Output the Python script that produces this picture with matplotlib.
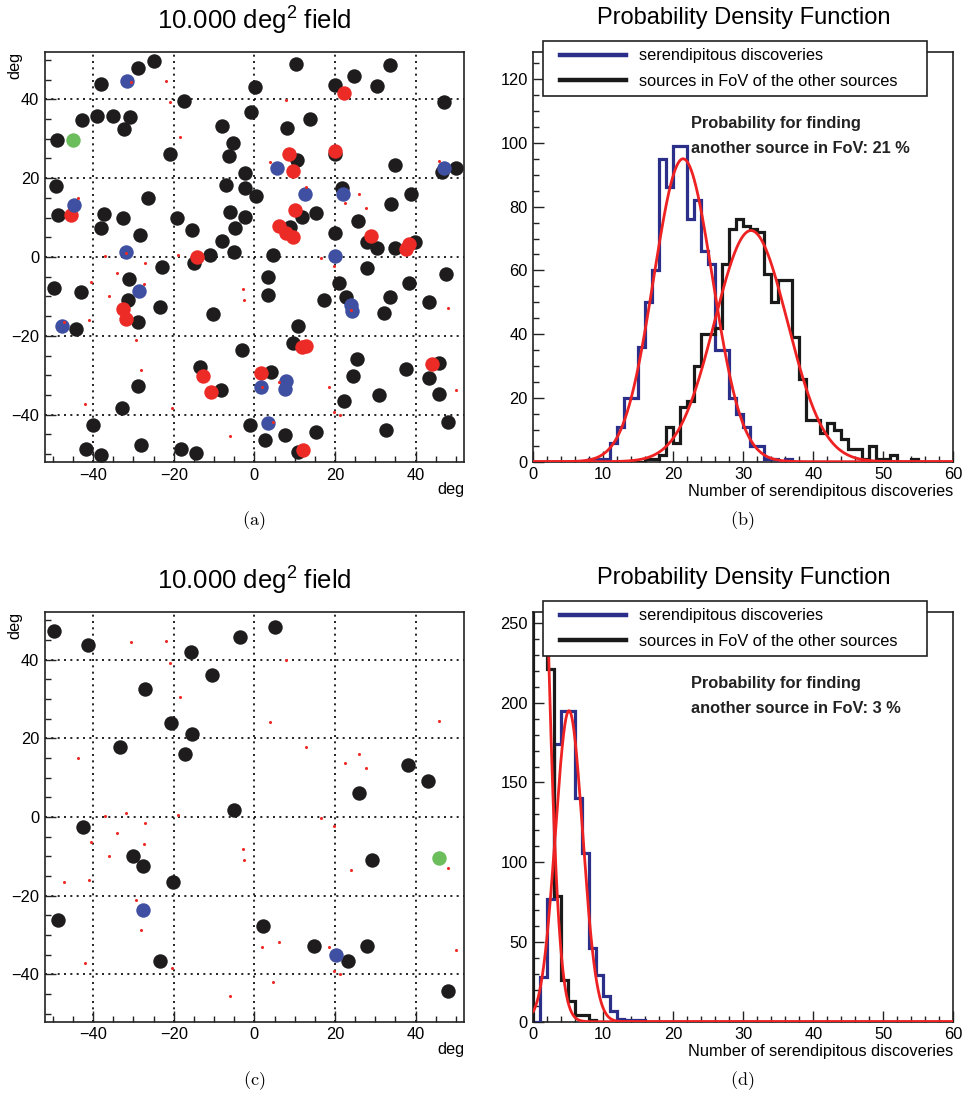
import numpy as np
import matplotlib
matplotlib.use('Agg')
import matplotlib.pyplot as plt
from matplotlib.lines import Line2D
from matplotlib.legend_handler import HandlerLine2D
from matplotlib.ticker import MultipleLocator

plt.rcParams['font.family'] = ['Liberation Sans', 'DejaVu Sans']
plt.rcParams['mathtext.fontset'] = 'custom'
plt.rcParams['mathtext.rm'] = 'Liberation Sans'
plt.rcParams['mathtext.it'] = 'Liberation Sans:italic'
plt.rcParams['axes.unicode_minus'] = True

# ---------------- data: panel (a) ----------------
black_a_x = [-49.0, -49.2, -48.6, -42.7, -38.1, -39.1, -35.1, -30.8, -32.3, -28.8, -25.0, -37.4, -38.0,
             -32.6, -28.3, -26.3, -22.9, -20.9, -17.5, -19.3, -15.5, -15.0, -11.1, -8.1, -5.1, -4.9,
             -6.1, -2.2, 0.5, -2.4, -7.1, -2.4, -6.4, -5.3, -7.9, -0.9, 0.2, 10.4, 8.2, 13.9, 10.7, 8.9,
             11.7, 15.3, 4.7, 20.1, 24.6, 30.3, 33.6, 20.0, 21.7, 20.0, 25.7, 27.9, 30.5, 35.0, 34.0,
             38.9, 34.8, 39.8, 47.1, 46.6, 50.0, 28.0, 47.5, -49.7, -43.1, -31.1, -31.3, -28.9, -23.3,
             -44.2, -10.3, 3.5, 3.5, 20.9, 17.3, 22.7, 33.7, 32.1, 38.3, 43.3, 10.9, 9.6, -3.1, -13.5,
             -8.3, 4.2, -28.8, -32.9, -40.0, -41.7, -38.1, -28.0, -18.2, -14.4, -1.2, 2.6, 7.5, 15.4,
             10.9, 25.4, 24.4, 22.3, 30.8, 37.5, 43.3, 45.8, 45.9, 48.1, 32.7]
black_a_y = [29.8, 18.1, 10.6, 34.7, 44.0, 35.7, 35.7, 35.5, 32.5, 48.0, 49.7, 10.9, 7.4,
             10.0, 5.6, 15.0, -2.5, 26.0, 39.5, 9.8, 6.8, -1.5, 0.4, 4.0, 1.3, 7.4,
             11.3, 10.1, 15.4, 17.5, 18.3, 21.3, 25.7, 28.8, 33.2, 36.9, 43.1, 48.9, 32.8, 34.9, 24.6, 7.5,
             10.1, 11.1, 0.5, 43.6, 45.8, 43.3, 48.6, 26.2, 17.5, 6.1, 9.1, 3.7, 2.2, 23.4, 13.4,
             16.1, 2.3, 3.8, 39.3, 21.6, 22.6, -2.8, -4.3, -7.9, -9.0, -5.7, -10.9, -16.6, -12.6,
             -18.2, -14.4, -5.0, -9.7, -6.5, -11.0, -10.2, -10.2, -14.1, -6.5, -11.4, -17.5, -21.9, -23.5, -27.8,
             -33.7, -29.1, -32.8, -38.4, -42.6, -48.6, -50.1, -47.6, -48.6, -49.7, -42.5, -46.3, -45.2, -44.5,
             -49.5, -25.8, -30.2, -36.6, -34.9, -28.5, -30.6, -26.9, -34.7, -41.9, -43.9]
red_a_x = [-45.5, 22.2, 8.6, 9.6, 20.1, 10.2, 6.2, 7.9, 9.6, 28.9, 37.5, 38.3, -14.2, -32.5, -31.9,
           11.7, 12.7, -12.8, -10.8, 1.7, 12.1, 44.1]
red_a_y = [10.6, 41.5, 26.2, 21.8, 26.9, 11.9, 7.9, 6.0, 5.1, 5.4, 2.0, 3.2, 0.0, -13.2, -15.7,
           -22.9, -22.5, -30.3, -34.3, -29.3, -48.9, -27.2]
blue_a_x = [-31.6, -44.8, 5.7, 12.6, 22.1, 47.0, -31.9, 20.1, -28.7, -47.8, 23.9, 24.1, 1.6, 7.9, 7.7, 3.3]
blue_a_y = [44.6, 13.3, 22.6, 16.1, 16.1, 22.5, 1.2, 0.3, -8.6, -17.5, -12.3, -13.7, -33.0, -31.4, -33.4, -42.1]
green_a_x = [-45.0]
green_a_y = [29.8]

# small red dots (same in (a) and (c))
dots_x = [-30.7, -21.8, -20.8, -18.5, 7.9, 4.0, 12.7, 26.0, 22.5, 27.8, 45.7, -43.8, -37.1, -31.9,
          -19.0, -27.0, 16.5, 19.8, -34.0, -40.6, -36.1, -27.4, -41.1, -47.1, 24.0, -2.7, -2.6,
          -29.4, -28.0, -41.9, -20.4, -6.1, 1.9, 6.0, 18.6, 19.8, 21.3, 4.6, 48.0, 50.0]
dots_y = [44.4, 44.7, 39.2, 30.4, 39.8, 24.1, 17.8, 15.9, 13.7, 12.5, 24.4, 14.9, 0.3, 1.1,
          0.6, -1.6, -0.2, -2.2, -4.0, -6.3, -10.0, -6.8, -16.1, -16.6, -13.4, -8.1, -10.8,
          -21.1, -28.7, -37.2, -38.3, -45.5, -33.1, -31.7, -32.9, -39.2, -40.0, -41.9, -13.0, -33.7]

# ---------------- data: panel (c) ----------------
black_c_x = [-49.7, -41.3, -3.6, 5.1, -15.8, -10.5, -27.0, -20.6, -15.4, -17.2, -33.3, -5.1, 25.9, 38.1,
             43.1, -42.5, -30.0, -27.7, -20.2, 29.1, -48.6, 2.1, -23.3, 14.9, 23.3, 27.9, 48.1]
black_c_y = [47.3, 43.7, 45.8, 48.2, 42.0, 36.0, 32.4, 23.8, 21.0, 16.1, 17.8, 1.9, 6.2, 13.2,
             9.1, -2.5, -10.0, -12.4, -16.5, -10.8, -26.2, -27.7, -36.6, -32.8, -36.6, -32.7, -44.3]
blue_c_x = [-27.7, 20.3]
blue_c_y = [-23.5, -35.0]
green_c_x = [45.9]
green_c_y = [-10.4]

# ---------------- data: histograms ----------------
bin_edges = list(range(0, 61))
blue_b_start = 8
blue_b_counts = [1, 1, 1, 6, 11, 20, 20, 36, 50, 60, 95, 86, 99, 99, 76, 82, 66, 62, 35, 35,
                 20, 15, 11, 5, 5, 1, 1, 0, 1]
black_b_start = 16
black_b_counts = [1, 1, 2, 11, 6, 17, 19, 30, 40, 40, 42, 62, 73, 76, 74, 73, 72, 59, 50, 57,
                  57, 39, 26, 13, 13, 9, 12, 10, 7, 4, 4, 1, 5, 1, 1, 2, 0, 0, 1]
blue_d_start = 1
blue_d_counts = [28, 77, 174, 195, 195, 140, 106, 46, 29, 16, 7, 2, 1, 1, 1]
black_d_start = 0
black_d_counts = [300, 360, 221, 79, 26, 13, 4, 4, 1]

# Gaussian fit parameters (amplitude, mean, sigma)
fit_blue_b = (95.0, 21.4, 4.2)
fit_black_b = (72.5, 31.1, 5.2)
fit_blue_d = (195.0, 5.1, 1.95)
fit_black_d = (638.0, -0.66, 2.0)

prob_b = 21
prob_d = 3

# ---------------- styling ----------------
C_BLACK = '#1e1c1c'
C_RED = '#ec2b27'
C_BLUE = '#3f4fa2'
C_GREEN = '#6cbd5c'
C_HBLUE = '#2c2f8a'
C_HBLACK = '#1a1a1a'
C_FIT = '#ee2222'
FS = 11.8

W, H = 968, 1100
fig = plt.figure(figsize=(W / 100, H / 100), dpi=100)


def add_ax(l, t, r, b):
    return fig.add_axes([l / W, 1 - b / H, (r - l) / W, (b - t) / H])


ax_a = add_ax(44.7, 52, 464, 462)
ax_b = add_ax(533.3, 52.3, 953.3, 461.7)
ax_c = add_ax(44.7, 612.3, 464, 1021.7)
ax_d = add_ax(533.3, 612.3, 953.3, 1021.7)


def style_ticks(ax):
    ax.tick_params(which='both', direction='in', top=False, right=False, labelsize=FS, width=1.0,
                   color='#222222')
    ax.tick_params(which='major', length=8, pad=4)
    ax.tick_params(which='minor', length=4.5)
    for s in ax.spines.values():
        s.set_linewidth(1.2)
        s.set_color('#222222')


MS = 108
DS = 5


def sky(ax, bx, by, rx, ry, blx, bly, gx, gy, title):
    ax.set_xlim(-52, 52)
    ax.set_ylim(-52, 52)
    ax.xaxis.set_major_locator(MultipleLocator(20))
    ax.yaxis.set_major_locator(MultipleLocator(20))
    ax.xaxis.set_minor_locator(MultipleLocator(5))
    ax.yaxis.set_minor_locator(MultipleLocator(5))
    ax.grid(True, which='major', color='black', linestyle=(0, (1.2, 2.6)), linewidth=1.2)
    ax.set_axisbelow(True)
    style_ticks(ax)
    ax.scatter(bx, by, s=MS, color=C_BLACK, linewidths=0, zorder=3)
    if rx:
        ax.scatter(rx, ry, s=MS, color=C_RED, linewidths=0, zorder=4)
    ax.scatter(blx, bly, s=MS, color=C_BLUE, linewidths=0, zorder=5)
    ax.scatter(gx, gy, s=MS, color=C_GREEN, linewidths=0, zorder=6)
    ax.scatter(dots_x, dots_y, s=DS, color=C_RED, linewidths=0, zorder=7)
    ax.text(1.0, -0.068, 'deg', transform=ax.transAxes, ha='right', va='center', fontsize=FS)
    ax.text(-0.07, 1.0, 'deg', transform=ax.transAxes, ha='center', va='top', rotation=90, fontsize=FS)
    ax.text(0.5, 1.076, title, transform=ax.transAxes, ha='center', va='center', fontsize=18.5)


sky(ax_a, black_a_x, black_a_y, red_a_x, red_a_y, blue_a_x, blue_a_y, green_a_x, green_a_y,
    '10.000 deg$^{2}$ field')
sky(ax_c, black_c_x, black_c_y, [], [], blue_c_x, blue_c_y, green_c_x, green_c_y,
    '10.000 deg$^{2}$ field')


def full(start, counts):
    v = np.zeros(len(bin_edges) - 1)
    v[start:start + len(counts)] = counts
    return v


def gauss(x, p):
    a, m, s = p
    return a * np.exp(-0.5 * ((x - m) / s) ** 2)


def pdf(ax, bstart, bcounts, kstart, kcounts, fb, fk, ymax, ymaj, ymin, prob):
    ax.set_xlim(0, 60)
    ax.set_ylim(0, ymax)
    ax.xaxis.set_major_locator(MultipleLocator(10))
    ax.xaxis.set_minor_locator(MultipleLocator(2))
    ax.yaxis.set_major_locator(MultipleLocator(ymaj))
    ax.yaxis.set_minor_locator(MultipleLocator(ymin))
    style_ticks(ax)
    ax.stairs(full(bstart, bcounts), bin_edges, baseline=0, color=C_HBLUE, linewidth=2.3, zorder=3)
    ax.stairs(full(kstart, kcounts), bin_edges, baseline=0, color=C_HBLACK, linewidth=2.3, zorder=4)
    xs = np.linspace(0, 60, 2400)
    ax.plot(xs, gauss(xs, fb), color=C_FIT, linewidth=2.0, zorder=5)
    ax.plot(xs, gauss(xs, fk), color=C_FIT, linewidth=2.0, zorder=5)
    handles = [Line2D([], [], color=C_HBLUE, linewidth=3.2),
               Line2D([], [], color=C_HBLACK, linewidth=3.2)]
    leg = ax.legend(handles, ['serendipitous discoveries', 'sources in FoV of the other sources'],
                    loc='upper left', bbox_to_anchor=(0.024, 1.0276, 0.913, 0.0), mode='expand',
                    fontsize=FS, frameon=True, fancybox=False, framealpha=1, edgecolor='#222222',
                    borderpad=0.45, handlelength=4.6, handletextpad=0.8, labelspacing=0.62,
                    borderaxespad=0, handler_map={Line2D: HandlerLine2D(xpad=0.55)})
    leg.get_frame().set_linewidth(1.2)
    leg.set_zorder(10)
    ax.text(0.375, 0.827, 'Probability for finding', transform=ax.transAxes, ha='left', va='center',
            fontsize=FS, fontweight='bold', color='#222222', zorder=8)
    ax.text(0.375, 0.766, f'another source in FoV: {prob} %', transform=ax.transAxes, ha='left',
            va='center', fontsize=FS, fontweight='bold', color='#222222', zorder=8)
    ax.text(1.0, -0.074, 'Number of serendipitous discoveries', transform=ax.transAxes, ha='right',
            va='center', fontsize=FS)
    ax.text(0.5, 1.084, 'Probability Density Function', transform=ax.transAxes, ha='center',
            va='center', fontsize=17)


pdf(ax_b, blue_b_start, blue_b_counts, black_b_start, black_b_counts, fit_blue_b, fit_black_b,
    128.4, 20, 5, prob_b)
pdf(ax_d, blue_d_start, blue_d_counts, black_d_start, black_d_counts, fit_blue_d, fit_black_d,
    256.7, 50, 10, prob_d)

for lab, x, y in [('(a)', 254, 521), ('(b)', 742, 521), ('(c)', 254, 1081), ('(d)', 742, 1081)]:
    fig.text(x / W, 1 - y / H, r'$\mathrm{' + lab + '}$', ha='center', va='center', fontsize=13,
             math_fontfamily='cm')

fig.savefig('out.png', dpi=100)
